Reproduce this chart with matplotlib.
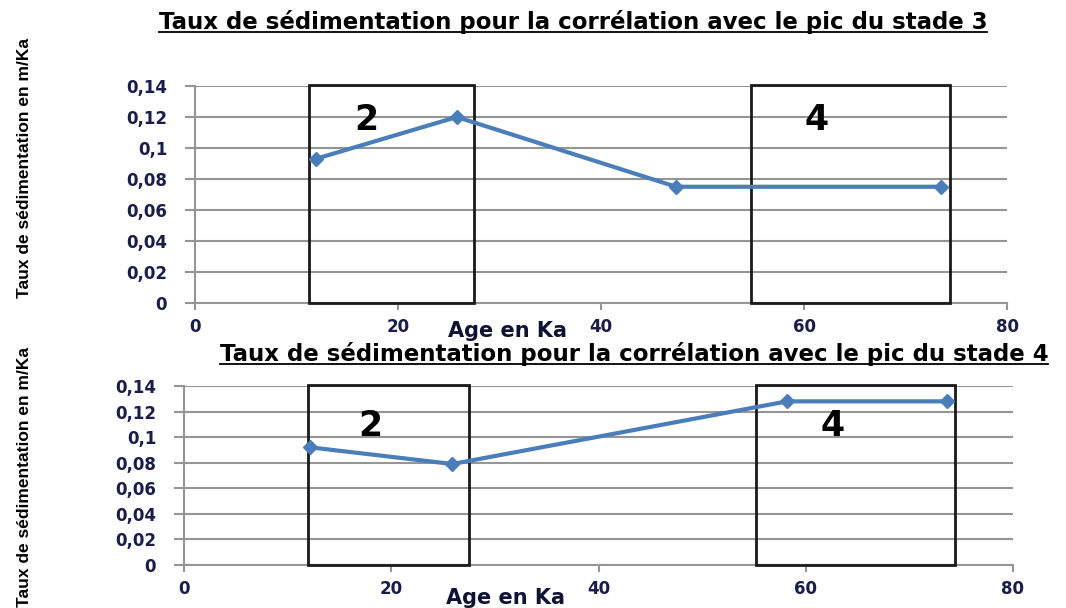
import matplotlib
matplotlib.use("Agg")
import matplotlib.pyplot as plt
from matplotlib.patches import Rectangle
from matplotlib.lines import Line2D

# data
age_top = [11.9, 25.8, 47.4, 73.5]
rate_top = [0.093, 0.120, 0.075, 0.075]
age_bot = [12.2, 25.9, 58.2, 73.6]
rate_bot = [0.092, 0.079, 0.128, 0.128]

# stage boxes (x start, x end) and labels
boxes_top = [(11.2, 27.5), (54.8, 74.4)]
boxes_bot = [(12.0, 27.5), (55.2, 74.4)]
stage_labels = ["2", "4"]

yticks = [0, 0.02, 0.04, 0.06, 0.08, 0.1, 0.12, 0.14]
ytick_labels = ["0", "0,02", "0,04", "0,06", "0,08", "0,1", "0,12", "0,14"]
xticks = [0, 20, 40, 60, 80]

title_top = "Taux de sédimentation pour la corrélation avec le pic du stade 3"
title_bot = "Taux de sédimentation pour la corrélation avec le pic du stade 4"
ylabel = "Taux de sédimentation en m/Ka"
xlabel = "Age en Ka"

LINE_COL = "#4a7ebb"
GRID_COL = "#959595"
TICK_COL = "#1c1c4a"

fig = plt.figure(figsize=(10.66, 6.08), dpi=100)
W, H = 1066, 608


def px_axes(l, t, r, b):
    return fig.add_axes([l / W, 1 - b / H, (r - l) / W, (b - t) / H])


def style(ax, x, y, boxes, label_pos):
    ax.set_xlim(0, 80)
    ax.set_ylim(0, 0.14)
    ax.set_yticks(yticks)
    ax.set_yticklabels(ytick_labels)
    ax.set_xticks(xticks)
    ax.set_xticklabels([str(v) for v in xticks])
    for s in ["top", "right"]:
        ax.spines[s].set_visible(False)
    for s in ["left", "bottom"]:
        ax.spines[s].set_color(GRID_COL)
        ax.spines[s].set_linewidth(1.5)
    ax.grid(axis="y", color=GRID_COL, linewidth=1.5)
    ax.set_axisbelow(True)
    ax.tick_params(axis="y", length=7, width=1.5, color=GRID_COL,
                   labelcolor=TICK_COL, labelsize=12, pad=13)
    ax.tick_params(axis="x", length=5, width=1.5, color=GRID_COL,
                   labelcolor=TICK_COL, labelsize=12, pad=6)
    for lab in ax.get_xticklabels() + ax.get_yticklabels():
        lab.set_fontweight("bold")
    for (x0, x1), txt, (lx, ly) in zip(boxes, stage_labels, label_pos):
        ax.add_patch(Rectangle((x0, 0), x1 - x0, 0.1405, fill=False,
                               edgecolor="#1a1a1a", linewidth=2,
                               clip_on=False, zorder=3))
        ax.text(lx, ly, txt, fontsize=25, fontweight="bold",
                ha="center", va="center", color="black", zorder=4)
    ax.plot(x, y, color=LINE_COL, linewidth=3, marker="D", markersize=7,
            zorder=5, clip_on=False)


ax1 = px_axes(195, 86, 1007, 303)
style(ax1, age_top, rate_top, boxes_top, [(16.9, 0.118), (61.2, 0.118)])
ax2 = px_axes(184, 386, 1013, 565)
style(ax2, age_bot, rate_bot, boxes_bot, [(18.0, 0.109), (62.6, 0.109)])

tfont = dict(family="DejaVu Sans", fontweight="bold", fontsize=16.5, color="black")
t1 = fig.text(573 / W, 1 - 22 / H, title_top, ha="center", va="center", **tfont)
t2 = fig.text(634 / W, 1 - 354 / H, title_bot, ha="center", va="center", **tfont)

xfont = dict(family="DejaVu Sans", fontweight="bold", fontsize=15, color="#111133")
fig.text(507 / W, 1 - 331 / H, xlabel, ha="center", va="center", **xfont)
fig.text(506 / W, 1 - 598 / H, xlabel, ha="center", va="center", **xfont)

yfont = dict(family="Liberation Sans", fontweight="bold", fontsize=12.5, color="black")
fig.text(25 / W, 1 - 168 / H, ylabel, rotation=90, ha="center", va="center", **yfont)
fig.text(25 / W, 1 - 477 / H, ylabel, rotation=90, ha="center", va="center", **yfont)

# underline the titles
fig.canvas.draw()
r = fig.canvas.get_renderer()
for t in [t1, t2]:
    bb = t.get_window_extent(r)
    yl = bb.y0 + 2
    fig.add_artist(Line2D([bb.x0 / W, bb.x1 / W], [yl / H, yl / H],
                          color="black", linewidth=1.3))

fig.savefig("out.png", dpi=100)
